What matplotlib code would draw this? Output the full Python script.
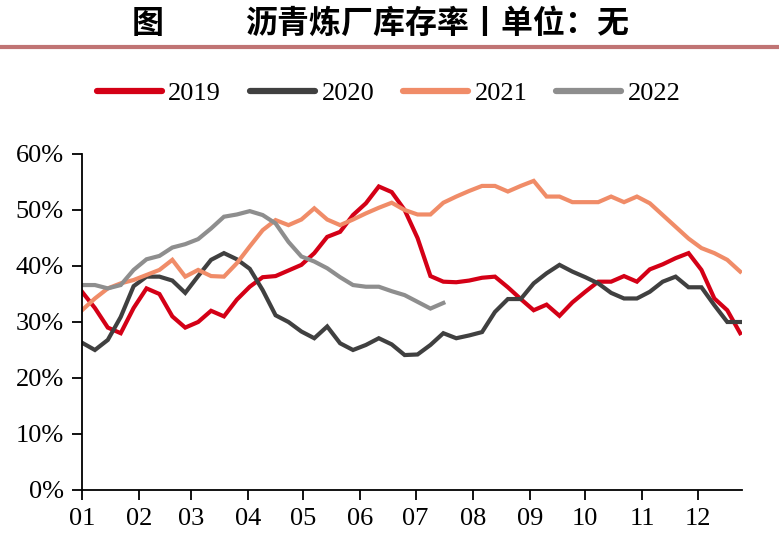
import numpy as np
import matplotlib
matplotlib.use('Agg')
import matplotlib.pyplot as plt
from matplotlib.lines import Line2D

# 沥青炼厂库存率 周度数据(%)
months = ['01', '02', '03', '04', '05', '06', '07', '08', '09', '10', '11', '12']
month_start = [0, 31, 59, 90, 120, 151, 181, 212, 243, 273, 304, 334]

y2019 = [35.4, 32.5, 29.0, 28.0, 32.5, 36.0, 35.0, 31.0, 29.0, 30.0, 32.0, 31.0, 34.0,
         36.3, 38.0, 38.2, 39.2, 40.2, 42.3, 45.2, 46.1, 49.1, 51.2, 54.2, 53.2, 50.0,
         45.0, 38.2, 37.2, 37.1, 37.4, 37.9, 38.1, 36.2, 34.1, 32.1, 33.1, 31.1, 33.5,
         35.4, 37.2, 37.2, 38.2, 37.2, 39.4, 40.3, 41.4, 42.3, 39.3, 34.2, 32.1, 28.0]
y2020 = [26.3, 25.0, 26.8, 30.9, 36.4, 38.1, 38.1, 37.4, 35.2, 38.2, 41.1, 42.3, 41.2,
         39.5, 35.7, 31.2, 30.0, 28.3, 27.1, 29.2, 26.2, 25.0, 25.9, 27.1, 26.0, 24.1,
         24.2, 25.9, 28.0, 27.1, 27.6, 28.2, 31.8, 34.1, 34.1, 36.9, 38.7, 40.2, 39.0,
         38.0, 36.9, 35.2, 34.2, 34.2, 35.4, 37.2, 38.1, 36.2, 36.2, 33.0, 30.0, 30.0]
y2021 = [32.1, 34.2, 36.0, 36.9, 37.5, 38.4, 39.3, 41.1, 38.1, 39.3, 38.2, 38.1, 40.5,
         43.5, 46.4, 48.2, 47.3, 48.3, 50.3, 48.3, 47.3, 48.3, 49.4, 50.4, 51.3, 50.0,
         49.2, 49.2, 51.3, 52.4, 53.4, 54.3, 54.3, 53.3, 54.3, 55.2, 52.4, 52.4, 51.4,
         51.4, 51.4, 52.4, 51.4, 52.4, 51.2, 49.1, 47.0, 44.9, 43.2, 42.3, 41.1, 39.0]
y2022 = [36.6, 36.6, 36.0, 36.6, 39.3, 41.2, 41.8, 43.3, 43.9, 44.8, 46.7, 48.8, 49.2,
         49.8, 49.1, 47.6, 44.3, 41.7, 40.8, 39.6, 38.0, 36.6, 36.3, 36.3, 35.5, 34.8,
         33.6, 32.4, 33.4]

series = [('2019', y2019, '#D40016'), ('2020', y2020, '#404040'),
          ('2021', y2021, '#F08C68'), ('2022', y2022, '#8E8E8E')]

plt.rcParams['font.family'] = ['Liberation Serif', 'DejaVu Serif']

fig = plt.figure(figsize=(7.79, 5.48), dpi=100)
ax = fig.add_axes([82/779, 1-490/548, (742-82)/779, (490-154)/548])

for name, vals, c in series:
    days = np.arange(len(vals)) * 7
    ax.plot(days, vals, color=c, lw=3, label=name, solid_joinstyle='miter')

ax.set_xlim(0, 358)
ax.set_ylim(0, 60)
ax.set_xticks(month_start)
ax.set_xticklabels(months)
ax.set_yticks(np.arange(0, 61, 10))
ax.set_yticklabels([f'{v}%' for v in range(0, 61, 10)])
ax.tick_params(labelsize=19, length=7, width=1.3, direction='out', colors='black', pad=6)
for s in ['top', 'right']:
    ax.spines[s].set_visible(False)
for s in ['left', 'bottom']:
    ax.spines[s].set_linewidth(1.3)

handles = [Line2D([0], [0], color=c, lw=4.5, solid_capstyle='round') for _, _, c in series]
fig.legend(handles, [n for n, _, _ in series], loc='center', bbox_to_anchor=(0.499, 0.83),
           ncol=4, frameon=False, fontsize=19, handlelength=2.45, handletextpad=0.25,
           columnspacing=1.1)

# 标题
fig.text(148/779, 1-24/548, '图', fontsize=23, fontweight='bold', ha='center', va='center',
         family=['Noto Sans CJK SC', 'DejaVu Sans'])
fig.text(245/779, 1-24/548, '沥青炼厂库存率丨单位：无', fontsize=23, fontweight='bold',
         ha='left', va='center', family=['Noto Sans CJK SC', 'DejaVu Sans'])
fig.add_artist(Line2D([0, 1], [1-47/548, 1-47/548], color='#C07474', lw=3,
                      transform=fig.transFigure))

fig.savefig('out.png', dpi=100)
